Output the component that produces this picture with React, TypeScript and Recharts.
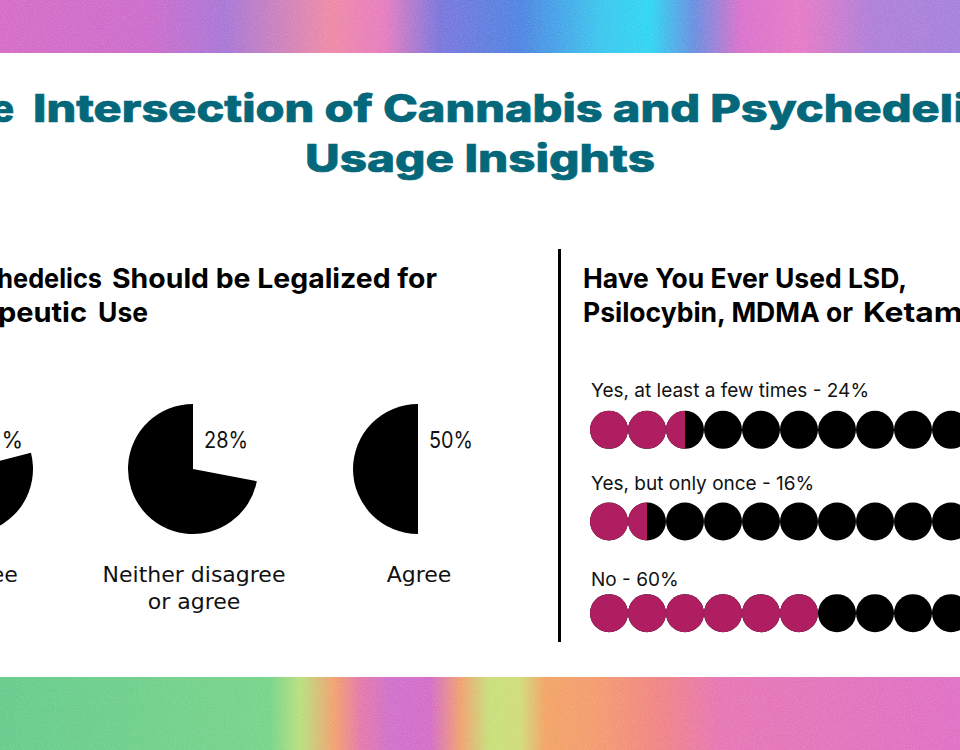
import React from "react";
import { Cell, Pie, PieChart, Scatter, ScatterChart, XAxis, YAxis } from "recharts";

// Left panel: share of answers, one pie each
const pieCategories = ["Disagree", "Neither disagree", "Agree"];
const pieCategoriesLine2 = ["", "or agree", ""];
const pieValues = [21, 28, 50];

// Right panel: dot rows
const dotLabels = ["Yes, at least a few times", "Yes, but only once", "No"];
const dotValues = [24, 16, 60];
const DOTS_PER_ROW = 10;

const TEAL = "#04687a";
const PINK = "#b01e62";
const FONT = "Inter, 'Open Sans', sans-serif";
const WIDE = "'DejaVu Sans', Inter, sans-serif";

const PIE_CENTERS = [-32, 193, 418];
const PIE_CY = 469;
const PIE_R = 65;

// each dot is 10%, drawn at half-dot resolution like the original
const dotPoints = dotValues.flatMap((v, row) => {
  const filled = Math.round((v / 100) * DOTS_PER_ROW * 2) / 2;
  return Array.from({ length: DOTS_PER_ROW }, (_, i) => ({
    x: i + 0.5,
    y: row + 0.5,
    frac: Math.max(0, Math.min(1, filled - i)),
    key: `${row}-${i}`,
  }));
});

function DotShape(props: any) {
  const { cx, cy, payload } = props;
  const r = 19;
  const id = `dotclip-${payload.key}`;
  return (
    <g>
      <circle cx={cx} cy={cy} r={r} fill="#000" />
      {payload.frac > 0 && (
        <>
          <clipPath id={id}>
            <rect x={cx - r} y={cy - r} width={2 * r * payload.frac} height={2 * r} />
          </clipPath>
          <circle cx={cx} cy={cy} r={r} fill={PINK} clipPath={`url(#${id})`} />
        </>
      )}
    </g>
  );
}

function renderPct(props: any) {
  if (props.index !== 0) return null;
  const cx = props.cx ?? 75;
  const cy = props.cy ?? 75;
  return (
    <text
      x={cx + 11}
      y={cy - 21}
      fontFamily={FONT}
      fontSize={23}
      fill="#111"
      textLength={44}
      lengthAdjust="spacingAndGlyphs"
    >
      {`${props.value}%`}
    </text>
  );
}

const topBand =
  "linear-gradient(90deg, #d56cc6 0px, #cc6ccc 150px, #a877d6 225px, #ee8aa6 330px, #e67cc0 385px, #7a76dc 440px, #4f84e2 520px, #3cc6ee 600px, #2fd6f2 650px, #6a8ee0 695px, #d872cc 740px, #e67ac6 800px, #b07ed8 870px, #a482dc 960px)";
const bottomBand =
  "linear-gradient(90deg, #66cc8c 0px, #78d48a 270px, #b8e07e 300px, #f2a070 335px, #e47aa8 360px, #d070cc 390px, #d46cc8 430px, #f0a070 460px, #c8e07a 490px, #d0dc7a 520px, #f2a466 545px, #f49a70 600px, #f08486 660px, #e676b4 720px, #e070c4 960px)";

export default function App() {
  return (
    <div
      style={{
        position: "fixed",
        left: 0,
        top: 0,
        width: 960,
        height: 750,
        overflow: "hidden",
        background: "#fff",
        fontFamily: FONT,
      }}
    >
      <div style={{ position: "absolute", left: 0, top: 0, width: 960, height: 53, background: topBand }} />
      <div style={{ position: "absolute", left: 0, top: 677, width: 960, height: 73, background: bottomBand }} />
      {/* paper grain over the colour bands */}
      <svg width={960} height={750} style={{ position: "absolute", left: 0, top: 0 }}>
        <defs>
          <filter id="grain">
            <feTurbulence type="fractalNoise" baseFrequency="0.9" numOctaves={2} seed={3} />
            <feColorMatrix type="matrix" values="0 0 0 0 1  0 0 0 0 1  0 0 0 0 1  0 0 0 0.9 -0.35" />
          </filter>
        </defs>
        <rect x={0} y={0} width={960} height={53} filter="url(#grain)" opacity={0.35} />
        <rect x={0} y={677} width={960} height={73} filter="url(#grain)" opacity={0.35} />
      </svg>

      {pieValues.map((v, idx) => (
        <div
          key={pieCategories[idx]}
          style={{ position: "absolute", left: PIE_CENTERS[idx] - 75, top: PIE_CY - 75 }}
        >
          <PieChart width={150} height={150} margin={{ top: 0, right: 0, bottom: 0, left: 0 }}>
            <Pie
              data={[
                { name: pieCategories[idx], value: v },
                { name: "rest", value: 100 - v },
              ]}
              dataKey="value"
              cx={75}
              cy={75}
              innerRadius={0}
              outerRadius={PIE_R}
              startAngle={90}
              endAngle={-270}
              stroke="none"
              label={renderPct}
              labelLine={false}
              isAnimationActive={false}
            >
              <Cell fill="#ffffff" />
              <Cell fill="#000000" />
            </Pie>
          </PieChart>
        </div>
      ))}

      <div style={{ position: "absolute", left: 590, top: 384 }}>
        <ScatterChart width={380} height={275} margin={{ top: 0, right: 0, bottom: 0, left: 0 }}>
          <XAxis type="number" dataKey="x" domain={[0, DOTS_PER_ROW]} hide />
          <YAxis type="number" dataKey="y" domain={[0, dotValues.length]} reversed hide />
          <Scatter data={dotPoints} shape={DotShape} isAnimationActive={false} />
        </ScatterChart>
      </div>

      <svg
        width={960}
        height={750}
        style={{ position: "absolute", left: 0, top: 0, pointerEvents: "none" }}
      >
        {/* title */}
        <g fontFamily={FONT} fontWeight={800} fontSize={38} fill={TEAL} stroke={TEAL} strokeWidth={0.7}>
          <text x={14} y={122} textAnchor="end">The</text>
          <text x={33} y={122} textLength={920} lengthAdjust="spacingAndGlyphs">
            Intersection of Cannabis and Psychedel
          </text>
          <text x={954} y={122}>ics</text>
          <text x={305} y={172} textLength={350} lengthAdjust="spacingAndGlyphs">
            Usage Insights
          </text>
        </g>

        {/* panel titles */}
        <g fontFamily={FONT} fontWeight={700} fontSize={27} fill="#000">
          <text x={102} y={288} textAnchor="end" textLength={165} lengthAdjust="spacingAndGlyphs">
            Psychedelics
          </text>
          <text x={112} y={288} textLength={325} lengthAdjust="spacingAndGlyphs">
            Should be Legalized for
          </text>
          <text x={87} y={322} textAnchor="end" textLength={172} lengthAdjust="spacingAndGlyphs">
            Therapeutic
          </text>
          <text x={98} y={322} textLength={50} lengthAdjust="spacingAndGlyphs">
            Use
          </text>
          <text x={583} y={288} textLength={324} lengthAdjust="spacingAndGlyphs">
            Have You Ever Used LSD,
          </text>
          <text x={583} y={322} textLength={270} lengthAdjust="spacingAndGlyphs">
            Psilocybin, MDMA or
          </text>
          <text x={863} y={322} textLength={165} lengthAdjust="spacingAndGlyphs">
            Ketamine?
          </text>
        </g>

        <line x1={559.5} y1={249} x2={559.5} y2={642} stroke="#000" strokeWidth={3} />

        {/* pie category names */}
        <g fontFamily={WIDE} fontSize={22} fill="#111" textAnchor="middle">
          {pieCategories.map((c, idx) => (
            <text key={c} x={PIE_CENTERS[idx] + 1} y={582}>
              {c}
            </text>
          ))}
          {pieCategoriesLine2.map((c, idx) =>
            c ? (
              <text key={c} x={PIE_CENTERS[idx] + 1} y={609}>
                {c}
              </text>
            ) : null
          )}
        </g>

        {/* dot row labels */}
        <g fontFamily={FONT} fontSize={19} fill="#111">
          {dotLabels.map((l, idx) => (
            <text key={l} x={591} y={[397, 490, 586][idx]}>
              {`${l} - ${dotValues[idx]}%`}
            </text>
          ))}
        </g>
      </svg>
    </div>
  );
}
